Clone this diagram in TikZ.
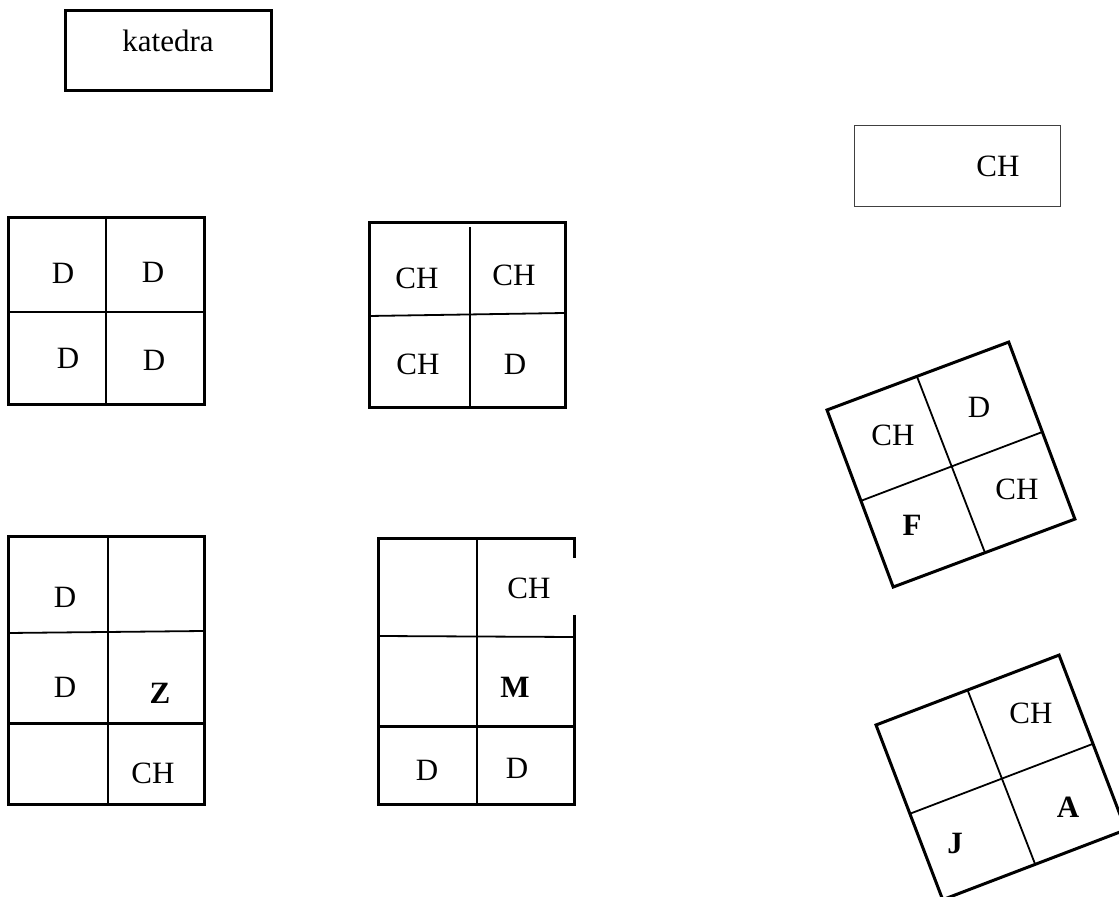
\documentclass[tikz,border=0pt]{standalone}
\usepackage{fontspec}
\setmainfont{Liberation Serif}
\begin{document}
\begin{tikzpicture}[
			x = 0.5pt, y = -0.5pt,
			every node/.style = {font = \fontsize{15.5}{18}\selectfont, inner sep = 0pt},
			desk/.style = {line width = 1.5pt},
			split/.style = {line width = 0.9pt},
			pupil/.style = {font = \fontsize{15.5}{18}\selectfont\bfseries}
			]

			\useasboundingbox (0,0) rectangle (1119,897);
			\clip (0,0) rectangle (1119,897);

			% katedra a skrinka
			\draw[desk] (65,11) rectangle (271,91);
			\node (katedra) at (168,41) {katedra};
			\draw[line width = 0.5pt, black!75] (854,126) rectangle (1060,207);
			\node (skrinka) at (998,166) {CH};

			% lavice vlevo nahore
			\draw[desk] (8,218) rectangle (204,405);
			\draw[split] (106,218) -- (106,405);
			\draw[split] (8,312) -- (204,312);
			\node (a1) at (63,273) {D};
			\node (a2) at (153,272) {D};
			\node (a3) at (68,358) {D};
			\node (a4) at (154,360) {D};

			% lavice uprostred nahore
			\draw[desk] (369,223) rectangle (565,408);
			\draw[split] (470,227) -- (470,408);
			\draw[split] (369,316) -- (565,313);
			\node (b1) at (417,278) {CH};
			\node (b2) at (514,275) {CH};
			\node (b3) at (418,364) {CH};
			\node (b4) at (515,364) {D};

			% lavice vlevo dole
			\draw[desk] (8,537) rectangle (204,804);
			\draw[split] (108,537) -- (108,804);
			\draw[split] (8,633) -- (204,631);
			\draw[desk] (8,723) -- (204,723);
			\node (c1) at (65,597) {D};
			\node (c2) at (65,687) {D};
			\node[pupil] (c3) at (160,693) {Z};
			\node (c4) at (153,773) {CH};

			% lavice uprostred dole
			\draw[desk] (574,615) -- (574,726) -- (378,726) -- (378,539) -- (574,539) -- (574,558);
			\draw[desk] (378,726) rectangle (574,804);
			\draw[split] (477,539) -- (477,804);
			\draw[split] (378,636) -- (574,637);
			\node (d1) at (529,588) {CH};
			\node[pupil] (d2) at (515,687) {M};
			\node (d3) at (427,770) {D};
			\node (d4) at (517,768) {D};

			% otocena lavice F
			\begin{scope}[shift = {(827,410)}, rotate = 20.5]
				\draw[desk] (0,0) rectangle (194,189);
				\draw[split] (96,0) -- (98,189);
				\draw[split] (0,97) -- (194,96);
			\end{scope}
			\node (e1) at (893,435) {CH};
			\node (e2) at (979,407) {D};
			\node (e3) at (1017,489) {CH};
			\node[pupil] (e4) at (912,525) {F};

			% otocena lavice J, A
			\begin{scope}[shift = {(876,725)}, rotate = 20.9]
				\draw[desk] (0,0) rectangle (196,187);
				\draw[split] (98,0) -- (99,187);
				\draw[split] (0,95) -- (196,95);
			\end{scope}
			\node (f1) at (1031,713) {CH};
			\node[pupil] (f2) at (1068,807) {A};
			\node[pupil] (f3) at (955,843) {J};

		\end{tikzpicture}
\end{document}
